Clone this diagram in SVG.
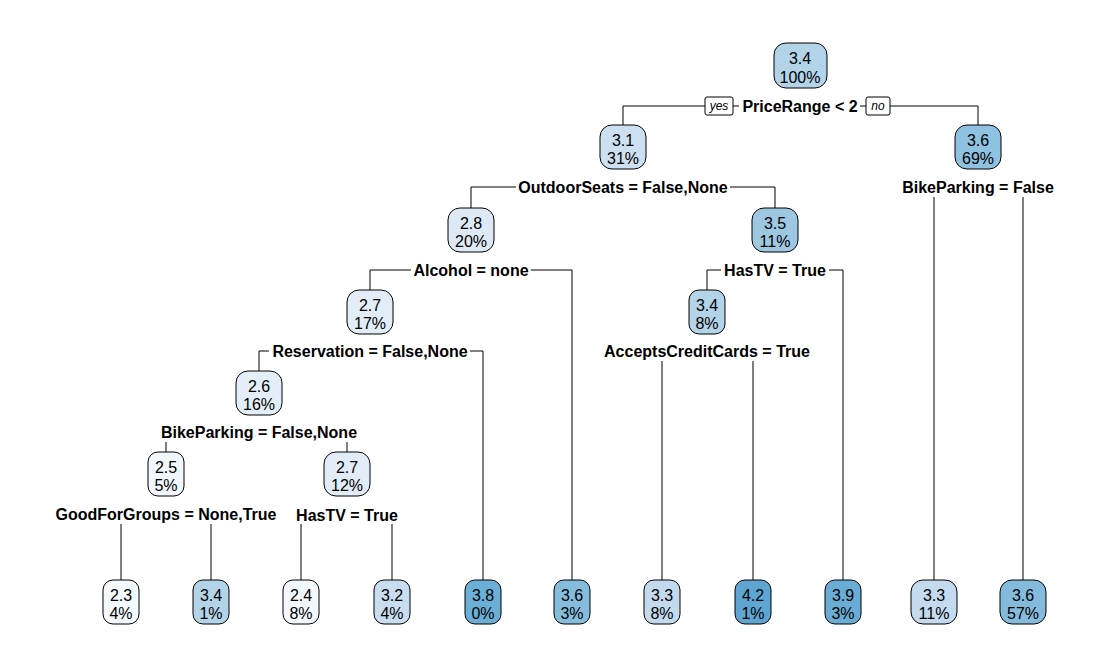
<svg xmlns="http://www.w3.org/2000/svg" width="1113" height="668" viewBox="0 0 1113 668">
<style>
.n rect{stroke:#000;stroke-width:1}
.n text{font-family:"Liberation Sans",Arial,sans-serif;font-size:16px;text-anchor:middle;fill:#000}
.s{font-family:"Liberation Sans",Arial,sans-serif;font-size:16px;font-weight:bold;text-anchor:middle;fill:#000}
.e path{fill:none;stroke:#000;stroke-width:1}
.yn rect{fill:#fff;stroke:#000;stroke-width:1}
.yn text{font-family:"Liberation Sans",Arial,sans-serif;font-size:12px;font-style:italic;text-anchor:middle}
</style>
<rect width="1113" height="668" fill="#fff"/>
<g id="connectors" class="e">
<path d="M705 106H623V125"/>
<path d="M890 106H978V125"/>
<path d="M733 106H739"/>
<path d="M860 106H866"/>
<path d="M516 187H471V208"/>
<path d="M730 187H775V208"/>
<path d="M934 197V580"/>
<path d="M1023 197V580"/>
<path d="M411 270H370V290"/>
<path d="M531 270H572V580"/>
<path d="M721 270H707V290"/>
<path d="M829 270H843V580"/>
<path d="M269 351H259V371"/>
<path d="M470 351H483V580"/>
<path d="M662 361V580"/>
<path d="M753 361V580"/>
<path d="M166 442V452"/>
<path d="M347 442V452"/>
<path d="M121 524V580"/>
<path d="M211 524V580"/>
<path d="M301 524V580"/>
<path d="M392 524V580"/>
</g>
<g class="yn">
<g id="yes"><rect x="705" y="97" width="28" height="18" rx="2"/><text x="719" y="110">yes</text></g>
<g id="no"><rect x="866" y="97" width="24" height="18" rx="2"/><text x="878" y="110">no</text></g>
</g>
<g id="splits">
<text class="s" x="800" y="112">PriceRange &lt; 2</text>
<text class="s" x="623" y="193">OutdoorSeats = False,None</text>
<text class="s" x="978" y="193">BikeParking = False</text>
<text class="s" x="471" y="276">Alcohol = none</text>
<text class="s" x="775" y="276">HasTV = True</text>
<text class="s" x="370" y="357">Reservation = False,None</text>
<text class="s" x="707" y="357">AcceptsCreditCards = True</text>
<text class="s" x="259" y="438">BikeParking = False,None</text>
<text class="s" x="166" y="520">GoodForGroups = None,True</text>
<text class="s" x="347" y="521">HasTV = True</text>
</g>
<g id="node1" class="n"><rect x="774" y="43" width="53" height="45" rx="12" fill="#B2D3E8"/><text x="800" y="64">3.4</text><text x="800" y="83">100%</text></g>
<g id="node2" class="n"><rect x="600" y="125" width="46" height="44" rx="12" fill="#CDE0F2"/><text x="623" y="146">3.1</text><text x="623" y="164">31%</text></g>
<g id="node3" class="n"><rect x="955" y="125" width="46" height="44" rx="12" fill="#8FC1E0"/><text x="978" y="146">3.6</text><text x="978" y="164">69%</text></g>
<g id="node4" class="n"><rect x="448" y="208" width="46" height="44" rx="12" fill="#DDEAF6"/><text x="471" y="229">2.8</text><text x="471" y="247">20%</text></g>
<g id="node5" class="n"><rect x="752" y="208" width="46" height="44" rx="12" fill="#9EC8E2"/><text x="775" y="229">3.5</text><text x="775" y="247">11%</text></g>
<g id="node6" class="n"><rect x="347" y="290" width="46" height="44" rx="12" fill="#E2EDF8"/><text x="370" y="311">2.7</text><text x="370" y="329">17%</text></g>
<g id="node7" class="n"><rect x="689" y="290" width="36" height="44" rx="10" fill="#B2D3E8"/><text x="707" y="311">3.4</text><text x="707" y="329">8%</text></g>
<g id="node8" class="n"><rect x="236" y="371" width="46" height="44" rx="12" fill="#E4EEF8"/><text x="259" y="392">2.6</text><text x="259" y="410">16%</text></g>
<g id="node9" class="n"><rect x="148" y="452" width="36" height="44" rx="10" fill="#F1F7FD"/><text x="166" y="473">2.5</text><text x="166" y="491">5%</text></g>
<g id="node10" class="n"><rect x="324" y="452" width="46" height="44" rx="12" fill="#E1ECF7"/><text x="347" y="473">2.7</text><text x="347" y="491">12%</text></g>
<g id="leaf1" class="n"><rect x="103" y="580" width="36" height="44" rx="10" fill="#F5FAFF"/><text x="121" y="601">2.3</text><text x="121" y="619">4%</text></g>
<g id="leaf2" class="n"><rect x="193" y="580" width="36" height="44" rx="10" fill="#B2D3E8"/><text x="211" y="601">3.4</text><text x="211" y="619">1%</text></g>
<g id="leaf3" class="n"><rect x="283" y="580" width="36" height="44" rx="10" fill="#F3F8FE"/><text x="301" y="601">2.4</text><text x="301" y="619">8%</text></g>
<g id="leaf4" class="n"><rect x="374" y="580" width="36" height="44" rx="10" fill="#C9DDF0"/><text x="392" y="601">3.2</text><text x="392" y="619">4%</text></g>
<g id="leaf5" class="n"><rect x="465" y="580" width="36" height="44" rx="10" fill="#6BAED6"/><text x="483" y="601">3.8</text><text x="483" y="619">0%</text></g>
<g id="leaf6" class="n"><rect x="554" y="580" width="36" height="44" rx="10" fill="#86BDDD"/><text x="572" y="601">3.6</text><text x="572" y="619">3%</text></g>
<g id="leaf7" class="n"><rect x="644" y="580" width="36" height="44" rx="10" fill="#C2D9EE"/><text x="662" y="601">3.3</text><text x="662" y="619">8%</text></g>
<g id="leaf8" class="n"><rect x="735" y="580" width="36" height="44" rx="10" fill="#5EA5D2"/><text x="753" y="601">4.2</text><text x="753" y="619">1%</text></g>
<g id="leaf9" class="n"><rect x="825" y="580" width="36" height="44" rx="10" fill="#69ADD6"/><text x="843" y="601">3.9</text><text x="843" y="619">3%</text></g>
<g id="leaf10" class="n"><rect x="911" y="580" width="46" height="44" rx="12" fill="#C4DAEF"/><text x="934" y="601">3.3</text><text x="934" y="619">11%</text></g>
<g id="leaf11" class="n"><rect x="1000" y="580" width="46" height="44" rx="12" fill="#84BBDC"/><text x="1023" y="601">3.6</text><text x="1023" y="619">57%</text></g>
</svg>
